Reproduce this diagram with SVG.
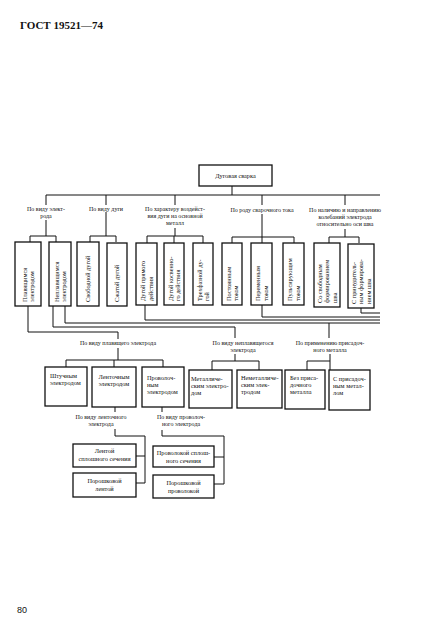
<svg xmlns="http://www.w3.org/2000/svg" width="425" height="644" viewBox="0 0 425 644">
<style>
.bg{fill:#fff}
.box{fill:#fff;stroke:#111;stroke-width:1.3}
.ln{fill:none;stroke:#111;stroke-width:1}
text{font-family:"Liberation Serif","DejaVu Serif",serif;fill:#111}
.t{font-size:6.3px}
.l{font-size:6px}
.c{text-anchor:middle}
.hdr{font-size:11px;font-weight:bold}
.pg{font-family:"Liberation Sans",Arial,sans-serif;font-size:9px}
</style>
<rect class="bg" x="0" y="0" width="425" height="644"/>
<text class="hdr" x="20" y="29">ГОСТ 19521—74</text>
<text class="pg" x="17" y="613">80</text>

<g id="connectors">
  <path class="ln" d="M232,186 V195 M46,195 H380 M46,195 V205 M106,195 V205 M175,195 V205 M262,195 V205 M345,195 V205"/>
  <path class="ln" d="M46,220 V236 M106,212 V236 M175,228 V236 M262,214 V243 M345,229 V237"/>
  <path class="ln" d="M30,242 V236 H56 V242 M90,242 V236 H116 V242 M147,243 V236 H203 V243 M174,236 V243 M232,243 V237 H294 V243 M329,243 V237 H359 V243"/>
  <path class="ln" d="M28,306 V332 H118 V339 M53,306 V327 H235 V338 M65,306 V323 H380 M329,323 V338 M145,305 V320 H380 M262,305 V317 H380 M361,308 V313 H380"/>
  <path class="ln" d="M118,348 V360 M66,367 V360 H163 V367 M114,360 V367 M235,354 V361 M212,370 V361 H259 V370 M330,354 V370 M307,370 V361 H330"/>
  <path class="ln" d="M115,407 V412 M115,429 V436 H145 V483 M136,456 H145 M136,483 H145 M162,407 V412 M162,430 V436 H224 V484 M214,457 H224 M214,484 H224"/>
</g>

<g id="labels">
  <text class="l c" x="46" y="211">По виду элект-</text>
  <text class="l c" x="46" y="218">рода</text>
  <text class="l c" x="106" y="211">По виду дуги</text>
  <text class="l c" x="175" y="211">По характеру воздейст-</text>
  <text class="l c" x="175" y="218">вия дуги на основной</text>
  <text class="l c" x="175" y="225">металл</text>
  <text class="l c" x="262" y="212">По роду сварочного тока</text>
  <text class="l c" x="345" y="212">По наличию и направлению</text>
  <text class="l c" x="345" y="219">колебаний электрода</text>
  <text class="l c" x="345" y="226">относительно оси шва</text>
  <text class="l c" x="118" y="345">По виду плавящего электрода</text>
  <text class="l c" x="243" y="345">По виду неплавящегося</text>
  <text class="l c" x="243" y="352">электрода</text>
  <text class="l c" x="330" y="345">По применению присадоч-</text>
  <text class="l c" x="330" y="352">ного металла</text>
  <text class="l c" x="101" y="419">По виду ленточного</text>
  <text class="l c" x="101" y="426">электрода</text>
  <text class="l c" x="181" y="419">По виду проволоч-</text>
  <text class="l c" x="181" y="426">ного электрода</text>
</g>

<g id="n-root"><rect class="box" x="199" y="165" width="73" height="21"/><text class="t c" x="235.5" y="178">Дуговая сварка</text></g>

<g id="n1"><rect class="box" x="15" y="242" width="26" height="64"/><text class="t" transform="translate(28,302) rotate(-90)"><tspan x="0" y="-1.5">Плавящимся</tspan><tspan x="0" y="6">электродом</tspan></text></g>
<g id="n2"><rect class="box" x="49" y="242" width="22" height="64"/><text class="t" transform="translate(60,302) rotate(-90)"><tspan x="0" y="-1.5">Неплавящимся</tspan><tspan x="0" y="6">электродом</tspan></text></g>
<g id="n3"><rect class="box" x="77" y="242" width="22" height="64"/><text class="t" transform="translate(88,302) rotate(-90)"><tspan x="0" y="2.2">Свободной дугой</tspan></text></g>
<g id="n4"><rect class="box" x="107" y="243" width="20" height="63"/><text class="t" transform="translate(117,302) rotate(-90)"><tspan x="0" y="2.2">Сжатой дугой</tspan></text></g>
<g id="n5"><rect class="box" x="136" y="243" width="21" height="62"/><text class="t" transform="translate(146.5,301) rotate(-90)"><tspan x="0" y="-1.5">Дугой прямого</tspan><tspan x="0" y="6">действия</tspan></text></g>
<g id="n6"><rect class="box" x="164" y="243" width="20" height="62"/><text class="t" transform="translate(174,301) rotate(-90)"><tspan x="0" y="-1.5">Дугой косвенно-</tspan><tspan x="0" y="6">го действия</tspan></text></g>
<g id="n7"><rect class="box" x="193" y="243" width="20" height="62"/><text class="t" transform="translate(203,301) rotate(-90)"><tspan x="0" y="-1.5">Трехфазной ду-</tspan><tspan x="0" y="6">гой</tspan></text></g>
<g id="n8"><rect class="box" x="222" y="243" width="20" height="62"/><text class="t" transform="translate(232,301) rotate(-90)"><tspan x="0" y="-1.5">Постоянным</tspan><tspan x="0" y="6">током</tspan></text></g>
<g id="n9"><rect class="box" x="251" y="243" width="21" height="62"/><text class="t" transform="translate(261.5,301) rotate(-90)"><tspan x="0" y="-1.5">Переменным</tspan><tspan x="0" y="6">током</tspan></text></g>
<g id="n10"><rect class="box" x="283" y="243" width="21" height="62"/><text class="t" transform="translate(293.5,301) rotate(-90)"><tspan x="0" y="-1.5">Пульсирующим</tspan><tspan x="0" y="6">током</tspan></text></g>
<g id="n11"><rect class="box" x="314" y="243" width="26" height="64"/><text class="t" transform="translate(327,303) rotate(-90)"><tspan x="0" y="-5.3">Со свободным</tspan><tspan x="0" y="2.2">формированием</tspan><tspan x="0" y="9.7">шва</tspan></text></g>
<g id="n12"><rect class="box" x="348" y="244" width="26" height="64"/><text class="t" transform="translate(361,304) rotate(-90)"><tspan x="0" y="-5.3">С принудитель-</tspan><tspan x="0" y="2.2">ным формирова-</tspan><tspan x="0" y="9.7">нием шва</tspan></text></g>

<g id="m1"><rect class="box" x="45" y="367" width="42" height="39"/><text class="t" x="50" y="378">Штучным</text><text class="t" x="50" y="385">электродом</text></g>
<g id="m2"><rect class="box" x="92" y="367" width="44" height="40"/><text class="t c" x="114" y="379">Ленточным</text><text class="t c" x="114" y="386">электродом</text></g>
<g id="m3"><rect class="box" x="142" y="367" width="42" height="40"/><text class="t" x="147" y="380">Проволоч-</text><text class="t" x="147" y="387">ным</text><text class="t" x="147" y="394">электродом</text></g>
<g id="m4"><rect class="box" x="189" y="370" width="43" height="38"/><text class="t" x="191" y="381">Металличе-</text><text class="t" x="191" y="388">ским электро-</text><text class="t" x="191" y="395">дом</text></g>
<g id="m5"><rect class="box" x="237" y="370" width="45" height="38"/><text class="t" x="241" y="380">Неметалличе-</text><text class="t" x="241" y="387">ским элек-</text><text class="t" x="241" y="394">тродом</text></g>
<g id="m6"><rect class="box" x="285" y="370" width="40" height="39"/><text class="t" x="290" y="380">Без приса-</text><text class="t" x="290" y="387">дочного</text><text class="t" x="290" y="394">металла</text></g>
<g id="m7"><rect class="box" x="329" y="370" width="41" height="40"/><text class="t" x="333" y="381">С присадоч-</text><text class="t" x="333" y="388">ным метал-</text><text class="t" x="333" y="395">лом</text></g>

<g id="b1"><rect class="box" x="73" y="444" width="63" height="23"/><text class="t c" x="104.5" y="453">Лентой</text><text class="t c" x="104.5" y="461">сплошного сечения</text></g>
<g id="b2"><rect class="box" x="73" y="473" width="63" height="24"/><text class="t c" x="104.5" y="483">Порошковой</text><text class="t c" x="104.5" y="491">лентой</text></g>
<g id="b3"><rect class="box" x="153" y="446" width="61" height="21"/><text class="t c" x="183.5" y="455">Проволокой сплош-</text><text class="t c" x="183.5" y="463">ного сечения</text></g>
<g id="b4"><rect class="box" x="153" y="475" width="61" height="23"/><text class="t c" x="183.5" y="485">Порошковой</text><text class="t c" x="183.5" y="493">проволокой</text></g>
</svg>
